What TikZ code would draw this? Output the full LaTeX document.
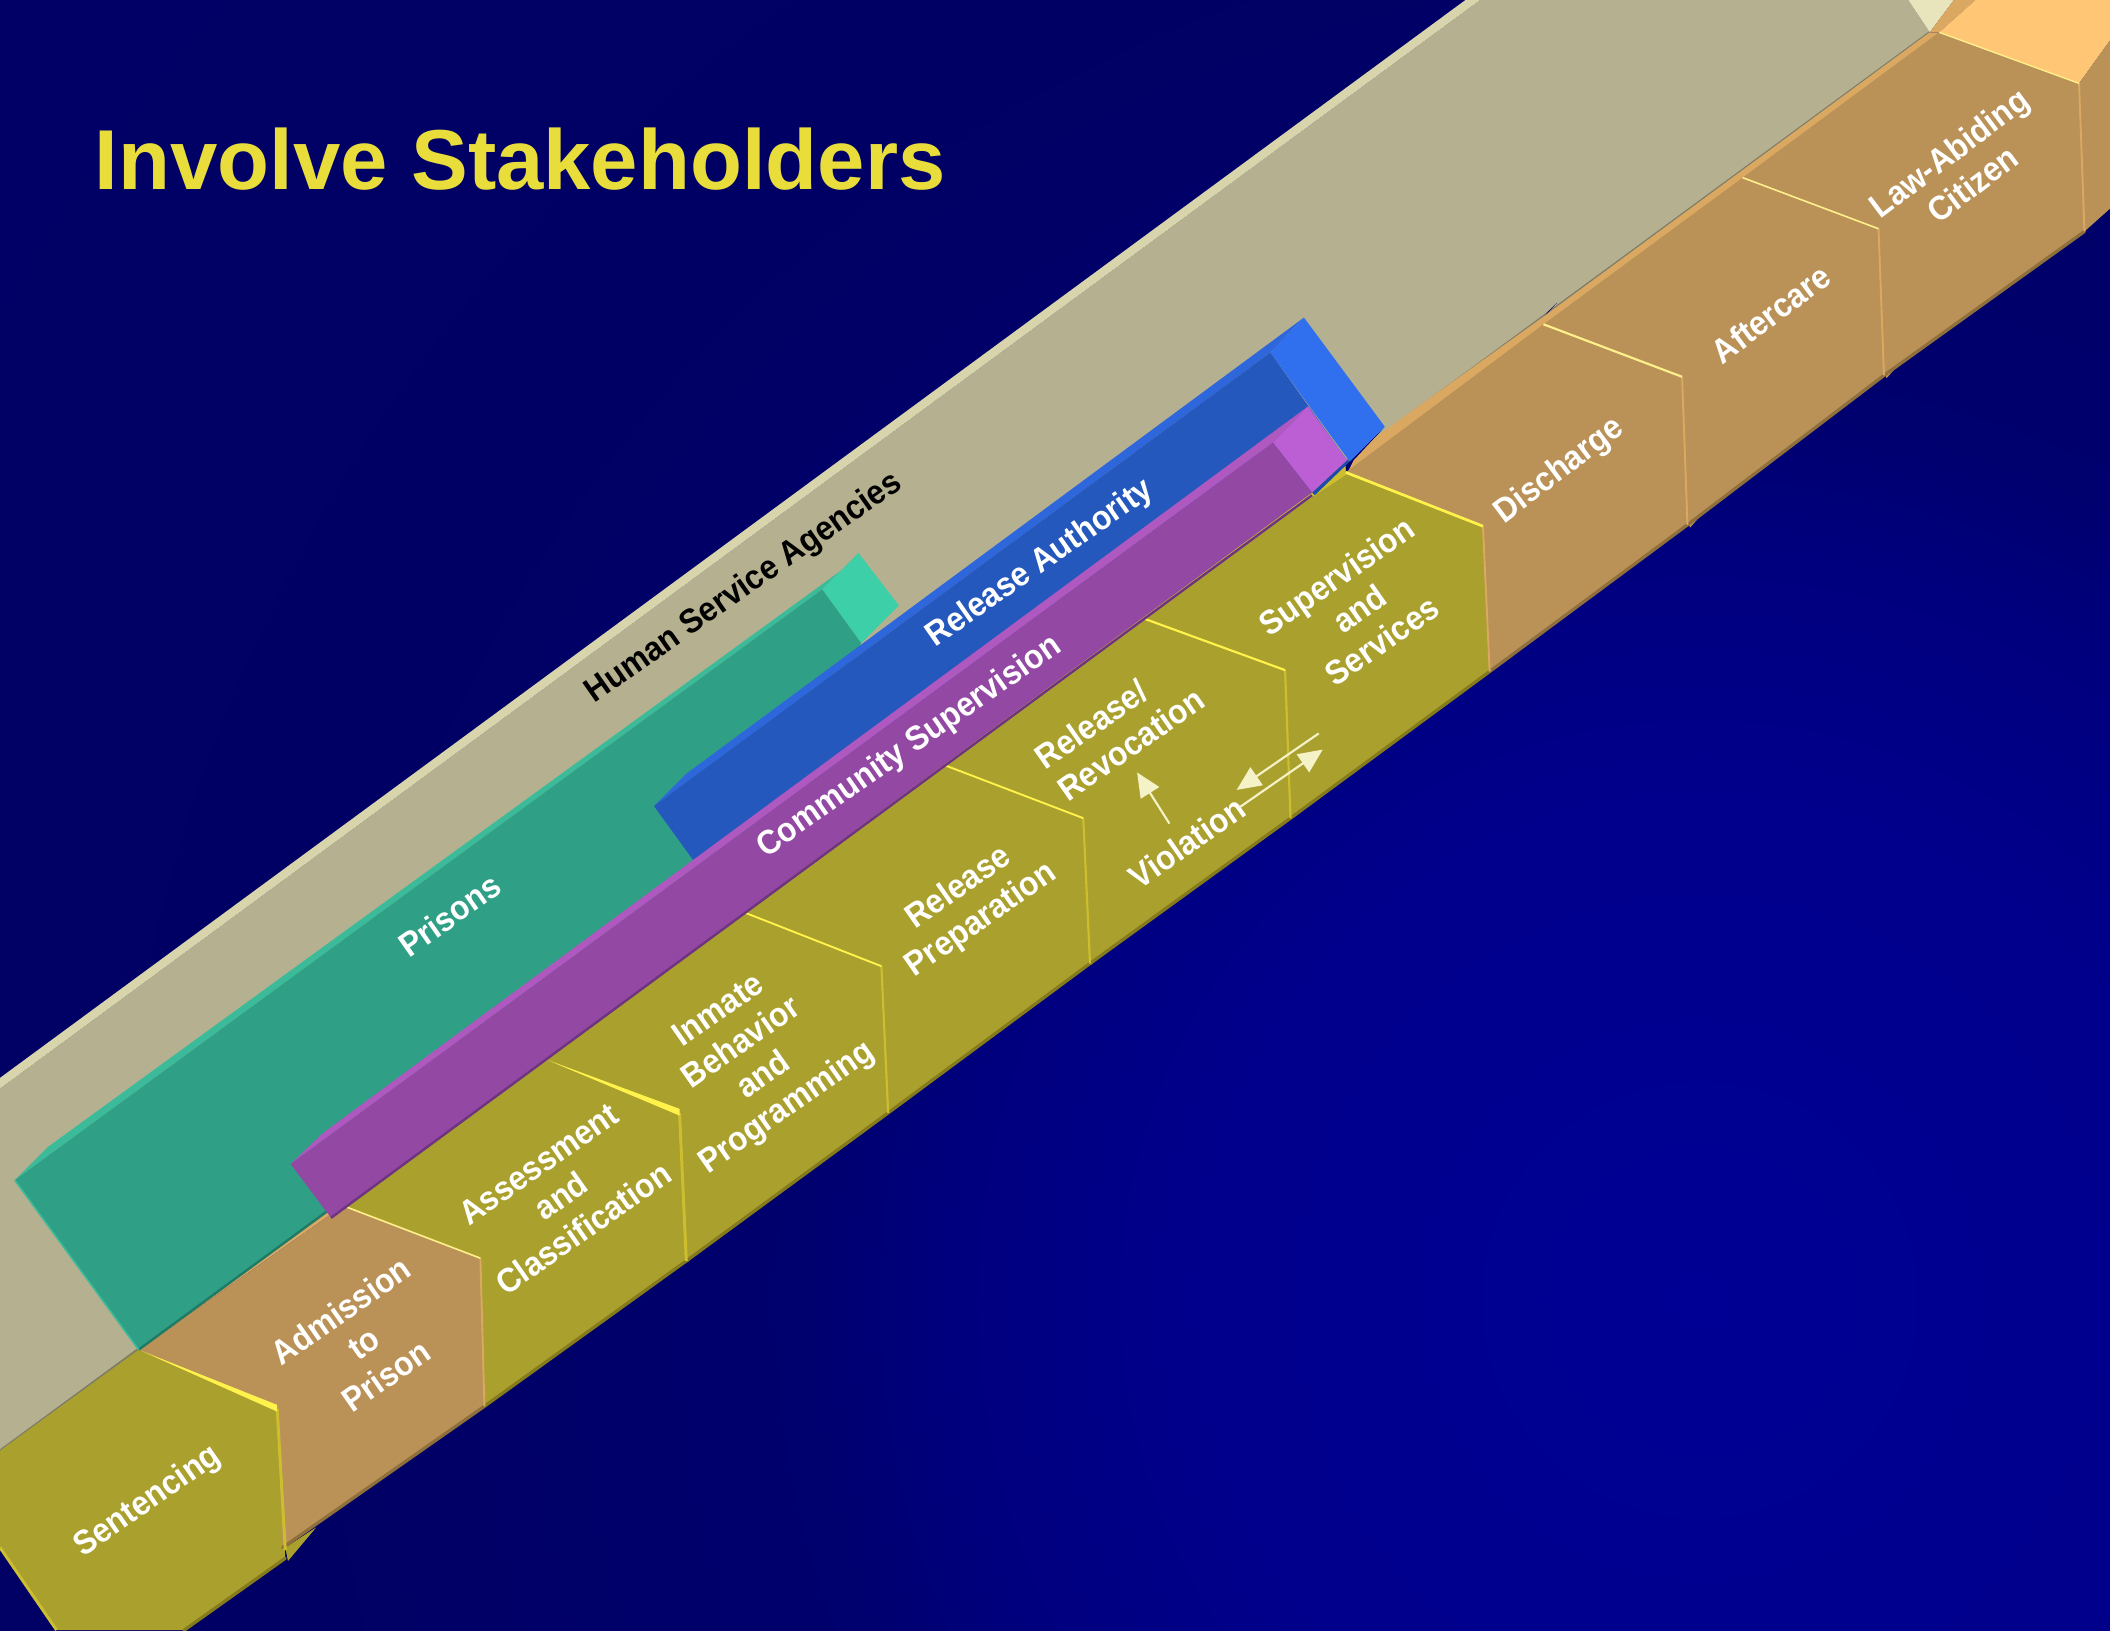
\documentclass[tikz,border=0pt]{standalone}
\usepackage{fontspec}
\setmainfont{Liberation Sans}
\usetikzlibrary{arrows.meta}
\definecolor{navy0}{HTML}{000094}
\definecolor{navy1}{HTML}{00008C}
\definecolor{navy2}{HTML}{00007E}
\definecolor{navy3}{HTML}{00006E}
\definecolor{navy4}{HTML}{000064}
\definecolor{navy5}{HTML}{000066}
\definecolor{titlecol}{HTML}{E9DD3B}
\definecolor{wallcol}{HTML}{B5B08F}
\definecolor{walltop}{HTML}{D8D4AC}
\definecolor{wallend}{HTML}{E8E4BC}
\definecolor{wallline}{HTML}{7C7C68}
\definecolor{greenfront}{HTML}{2FA085}
\definecolor{greentop}{HTML}{3CBB9A}
\definecolor{greenend}{HTML}{3CCFA8}
\definecolor{greendark}{HTML}{1F7A66}
\definecolor{bluefront}{HTML}{2558BC}
\definecolor{bluetop}{HTML}{2E66DC}
\definecolor{blueend}{HTML}{3070EE}
\definecolor{bluedark}{HTML}{1C4CA8}
\definecolor{purplefront}{HTML}{9348A4}
\definecolor{purpletop}{HTML}{AE58C0}
\definecolor{purpleend}{HTML}{BC5FD5}
\definecolor{purpledark}{HTML}{6E3480}
\definecolor{olive}{HTML}{AAA02E}
\definecolor{olivedark}{HTML}{857A1C}
\definecolor{oliveside}{HTML}{CDBE30}
\definecolor{tan1}{HTML}{BA9257}
\definecolor{tandark}{HTML}{8F6F3C}
\definecolor{tanside}{HTML}{DBA862}
\definecolor{orangetop}{HTML}{FFC775}
\definecolor{yellowline}{HTML}{FFF24A}
\definecolor{paleline}{HTML}{FFF08C}
\definecolor{arrowcol}{HTML}{F5F2C8}
\pgfdeclareradialshading{bgshade}{\pgfpointorigin}{color(0bp)=(navy0); color(5.8bp)=(navy1); color(8.7bp)=(navy2); color(10.45bp)=(navy3); color(16.25bp)=(navy4); color(25bp)=(navy5); color(50bp)=(navy5)}
\begin{document}
\begin{tikzpicture}[x=0.5pt,y=-0.5pt]
        \tikzstyle{label}=[font=\fontsize{12.6}{14.6}\selectfont\bfseries, text=white, align=center, inner sep=0pt, rotate=35, xscale=0.93, transform shape]
        \tikzstyle{oliveface}=[fill=olive]
        \tikzstyle{tanface}=[fill=tan1]
        \tikzstyle{ledge}=[line width=1.2pt, line cap=round]
        \tikzstyle{flow}=[draw=arrowcol, line width=0.8pt, -{Triangle[length=9pt,width=8pt]}]
        \useasboundingbox (0,0) rectangle (1568,1211.3);
        \begin{scope}
          \clip (0,0) rectangle (1568,1211.3);
          \shade[shading=bgshade] (1263,966) circle (1600);
        \end{scope}
        \node[anchor=base west, font=\fontsize{31.6}{36}\selectfont\bfseries, text=titlecol, inner sep=0pt] (title) at (70,140.5) {Involve Stakeholders};
        % wall
        \fill[wallcol] (0,809) -- (1100,0) -- (1418,0) -- (1434,24) -- (0,1078) -- cycle;
        \fill[walltop] (0,801) -- (1089,0) -- (1100,0) -- (0,809) -- cycle;
        \fill[wallend] (1418,0) -- (1434,24) -- (1452,0) -- cycle;
        \fill[tanside] (1434,24) -- (1441,24) -- (1468,0) -- (1452,0) -- cycle;
        \draw[wallline, line width=0.8pt] (0,1078) -- (1434,24);
        % steps
        \fill[tanside] (103,1003) -- (255,896) -- (250,890) -- (100,1001) -- cycle;
        \fill[oliveside] (255,897) -- (1000,352) -- (1000,346) -- (250,892) -- cycle;
        \fill[oliveface] (212,1150) -- (235,1135) -- (214,1160) -- cycle;
        \fill[tanface] (1254,388) -- (1270,376) -- (1256,392) -- cycle;
        \fill[tanface] (1400,277) -- (1416,265) -- (1402,281) -- cycle;
        \fill[oliveface] (510,935) -- (522,926) -- (511,938) -- cycle;
        \fill[oliveface] (810,714) -- (822,705) -- (811,717) -- cycle;
        \fill[navy3] (1003,343) -- (1029,317) -- (1022,325) -- (1006,342) -- cycle;
        \fill[navy3] (1150,232) -- (1157,225) -- (1147,236) -- cycle;
        \fill[tanside] (1000,354) -- (1441,27) -- (1441,24) -- (1434,24) -- (1146,236) -- (1022,325) -- (1006,342) -- cycle;
        \fill[fill=orangetop] (1441,24) -- (1468,0) -- (1568,0) -- (1568,30) -- (1545,62) -- cycle;
        \fill[oliveface] (0,1078) -- (103,1003) -- (206,1047) -- (212,1158) -- (137,1211.3) -- (42,1211.3) -- (0,1150) -- cycle;
        \fill[tanface] (103,1003) -- (255,896) -- (357,935) -- (360,1045) -- (210,1150) -- (206,1047) -- cycle;
        \fill[oliveface] (255,896) -- (405,787) -- (505,827) -- (510,937) -- (360,1045) -- (357,935) -- cycle;
        \fill[oliveface] (405,787) -- (553,678) -- (655,718) -- (660,827) -- (510,937) -- (505,827) -- cycle;
        \fill[oliveface] (553,678) -- (703,569) -- (805,608) -- (810,716) -- (660,827) -- (655,718) -- cycle;
        \fill[oliveface] (703,569) -- (851,460) -- (955,498) -- (959,608) -- (810,716) -- (805,608) -- cycle;
        \fill[oliveface] (851,460) -- (1000,351) -- (1102,391) -- (1107,499) -- (959,608) -- (955,498) -- cycle;
        \fill[tanface] (1000,351) -- (1147,241) -- (1250,280) -- (1254,390) -- (1107,499) -- (1102,391) -- cycle;
        \fill[tanface] (1147,241) -- (1295,132) -- (1396,170) -- (1400,279) -- (1254,390) -- (1250,280) -- cycle;
        \fill[tanface] (1295,132) -- (1441,24) -- (1545,62) -- (1549,172) -- (1400,279) -- (1396,170) -- cycle;
        \fill[tanface] (1545,62) -- (1568,30) -- (1568,155) -- (1549,172) -- cycle;
        \fill[oliveside] (971,372) -- (975,366) -- (1000,348) -- (1000,353) -- cycle;
        % step edges
        \draw[olivedark, ledge] (137,1211.3) -- (212,1158);
        \draw[tandark, ledge] (210,1150) -- (360,1045);
        \draw[olivedark, ledge] (360,1045) -- (510,937) -- (660,827) -- (810,716) -- (959,608) -- (1107,499);
        \draw[tandark, ledge] (1107,499) -- (1254,390) -- (1400,279) -- (1549,172);
        \draw[oliveside, line width=1.1pt] (0,1150) -- (42,1211.3);
        \draw[oliveside, line width=1.1pt] (206,1047) -- (212,1152);
        \draw[tanside, line width=0.7pt] (357,935) -- (360,1045);
        \draw[oliveside, line width=1.1pt] (505,827) -- (510,937);
        \draw[oliveside, line width=0.8pt] (655,718) -- (660,827);
        \draw[oliveside, line width=0.8pt] (805,608) -- (810,716);
        \draw[oliveside, line width=0.8pt] (955,498) -- (959,608);
        \draw[tanside, line width=0.7pt] (1102,391) -- (1107,499);
        \draw[tanside, line width=0.7pt] (1250,280) -- (1254,390);
        \draw[tanside, line width=0.7pt] (1396,170) -- (1400,279);
        \draw[tanside, line width=0.7pt] (1545,62) -- (1549,172);
        \fill[yellowline] (103,1003) -- (206,1044) -- (206,1049) -- cycle;
        \draw[paleline, line width=0.6pt] (255,896) -- (357,935);
        \fill[yellowline] (405,787) -- (505,824) -- (505,829) -- cycle;
        \draw[yellowline, line width=0.7pt] (553,678) -- (655,718);
        \draw[yellowline, line width=0.7pt] (703,569) -- (805,608);
        \draw[yellowline, line width=0.8pt] (851,460) -- (955,498);
        \draw[yellowline, line width=1pt] (1000,351) -- (1102,391);
        \draw[paleline, line width=0.8pt] (1147,241) -- (1250,280);
        \draw[paleline, line width=0.6pt] (1295,132) -- (1396,170);
        \draw[paleline, line width=0.5pt] (1441,24) -- (1545,62);
        % prisons
        \fill[greentop] (11,877) -- (36,852) -- (625,424) -- (638,411) -- (611,438) -- cycle;
        \fill[greenend] (611,438) -- (638,411) -- (668,450) -- (640,478) -- cycle;
        \fill[greenfront] (11,877) -- (611,438) -- (640,478) -- (530,690) -- (246,898) -- (103,1003) -- cycle;
        \draw[greendark, line width=0.9pt] (103,1003) -- (246,898);
        \draw[greentop, line width=0.6pt] (11,877) -- (103,1003);
        % release authority
        \fill[bluetop] (486,599) -- (510,575) -- (969,236) -- (944,262) -- cycle;
        \fill[blueend] (944,262) -- (969,236) -- (1029,317) -- (1003,343) -- cycle;
        \fill[bluefront] (486,599) -- (944,262) -- (1001,342) -- (975,366) -- (515,639) -- cycle;
        \fill[bluedark] (1003,343) -- (977,368) -- (975,366) -- (1001,342) -- cycle;
        % community supervision
        \fill[purpletop] (216,865) -- (240,842) -- (972,302) -- (946,329) -- cycle;
        \fill[purpleend] (946,329) -- (972,302) -- (1001,342) -- (975,366) -- cycle;
        \fill[purplefront] (216,865) -- (946,329) -- (975,366) -- (246,905) -- cycle;
        \draw[purpledark, line width=0.9pt] (246,905) -- (975,368);
        % labels
        \node[label, text=black] (agencies) at (553,437) {Human Service Agencies};
        \node[label] (prisons) at (334,680) {Prisons};
        \node[label] (authority) at (773,419) {Release Authority};
        \node[label] (community) at (676,555) {Community Supervision};
        \node[label] (sentencing) at (110,1116) {Sentencing};
        \node[label] (admission) at (270,998) {Admission\\to\\Prison};
        \node[label] (assessment) at (417,889) {Assessment\\and\\Classification};
        \node[label] (inmate) at (560,788) {Inmate\\Behavior\\and\\Programming};
        \node[label] (preparation) at (721,672) {Release\\Preparation};
        \node[label, align=left] (revocation) at (832,541) {Release/\\Revocation};
        \node[label] (violation) at (882,626) {Violation};
        \node[label] (supervision) at (1010,452) {Supervision\\and\\Services};
        \node[label, rotate=2] (discharge) at (1159,350) {Discharge};
        \node[label, rotate=2] (aftercare) at (1316,233) {Aftercare};
        \node[label, rotate=2] (citizen) at (1457,125) {Law-Abiding\\Citizen};
        % arrows
        \coordinate (a1) at (869,612);
        \coordinate (a2) at (845,574);
        \coordinate (b1) at (980,545);
        \coordinate (b2) at (919,587);
        \coordinate (c1) at (921,600);
        \coordinate (c2) at (983,557);
        \draw[flow] (a1) -- (a2);
        \draw[flow] (b1) -- (b2);
        \draw[flow] (c1) -- (c2);
\end{tikzpicture}
\end{document}
